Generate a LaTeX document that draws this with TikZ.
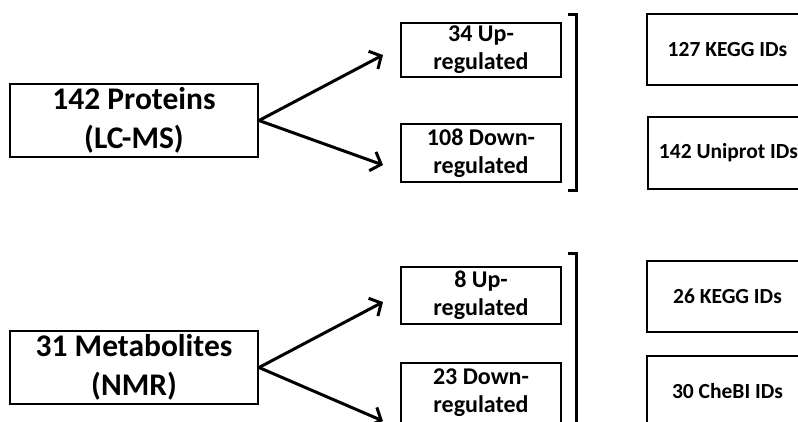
\documentclass[tikz,border=0pt]{standalone}
\usepackage{fontspec}
\setmainfont{Carlito}
\usetikzlibrary{arrows.meta}
\tikzset{
  box/.style={draw=black, line width=2pt, align=center, inner sep=0pt,
    font=\bfseries},
  bigbox/.style={box, minimum width=248pt, minimum height=73pt,
    font=\fontsize{31.5}{38.5}\bfseries\selectfont},
  regbox/.style={box, minimum width=160pt,
    font=\fontsize{24}{28}\bfseries\selectfont},
  idbox/.style={box, minimum width=161pt, minimum height=71pt,
    font=\fontsize{21.5}{25}\bfseries\selectfont},
  branch/.style={line width=3pt, -{Straight Barb[length=9pt,width=20pt]}},
  bracket/.style={line width=3pt}
}
\begin{document}
\begin{tikzpicture}[x=1pt, y=-1pt]
\useasboundingbox (0,0) rectangle (798,421);
\clip (0,0) rectangle (798,421);

% proteomics branch
\node[bigbox] (prot) at (134,120.5) {142 Proteins\\(LC-MS)};
\node[regbox, minimum height=54pt] (pup) at (481,50) {34 Up-\\regulated};
\node[regbox, minimum height=58pt] (pdown) at (481,153) {108 Down-\\regulated};
\node[idbox] (pkegg) at (727.5,49.5) {127 KEGG IDs};
\node[idbox, minimum height=72pt] (puni) at (728.5,153) {142 Uniprot IDs};
\coordinate (ptipup) at (383,55);
\coordinate (ptipdown) at (383,165);
\draw[branch] (prot.east) -- (ptipup);
\draw[branch] (prot.east) -- (ptipdown);
\draw[bracket] (568,14) -- (576,14) -- (576,190) -- (568,190);

% metabolomics branch
\node[bigbox] (metab) at (134,367.5) {31 Metabolites\\(NMR)};
\node[regbox, minimum height=57pt] (mup) at (481,295.5) {8 Up-\\regulated};
\node[regbox, minimum height=60pt] (mdown) at (481,393) {23 Down-\\regulated};
\node[idbox] (mkegg) at (727.5,296.5) {26 KEGG IDs};
\node[idbox] (mchebi) at (727.5,391.5) {30 CheBI IDs};
\coordinate (mtipup) at (383,302);
\coordinate (mtipdown) at (383,421);
\draw[branch] (metab.east) -- (mtipup);
\draw[branch] (metab.east) -- (mtipdown);
\draw[bracket] (568,253) -- (576,253) -- (576,440);
\end{tikzpicture}
\end{document}
